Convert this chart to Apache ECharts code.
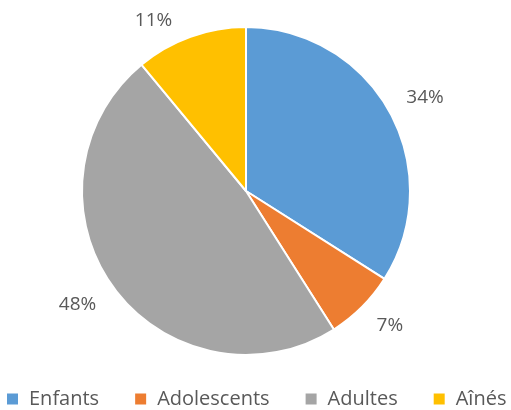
<!DOCTYPE html>
<html>
<head>
<meta charset="utf-8">
<script src="https://cdn.jsdelivr.net/npm/echarts@6/dist/echarts.min.js"></script>
<style>html,body{margin:0;padding:0;background:#fff;}#c{width:511px;height:410px;}</style>
</head>
<body>
<div id="c"></div>
<script>
const categories = ['Enfants', 'Adolescents', 'Adultes', 'Aînés'];
const values = [34, 7, 48, 11];

// styling (not data)
const colors = ['#5B9BD5', '#ED7D31', '#A5A5A5', '#FFC000'];
const labelNudges = [[2, 4], [1, -8], [-5, -5], [-24, 20]];

const chart = echarts.init(document.getElementById('c'));
const mainData = categories.map((n, i) => ({ name: n, value: values[i], itemStyle: { color: colors[i] } }));
const labelData = categories.map((n, i) => ({ name: n, value: values[i], label: { offset: labelNudges[i] } }));
chart.setOption({
  animation: false,
  legend: {
    top: 389,
    left: 7,
    padding: 0,
    icon: 'rect',
    itemWidth: 11,
    itemHeight: 11,
    itemGap: 36,
    itemStyle: { borderWidth: 0 },
    textStyle: { fontFamily: 'Open Sans', fontSize: 20, lineHeight: 20, color: '#595959', padding: [0, 0, 0, 6] },
    data: categories
  },
  series: [
    {
      type: 'pie',
      center: [246, 191],
      radius: 164,
      startAngle: 90,
      clockwise: true,
      label: { show: false },
      labelLine: { show: false },
      itemStyle: { borderColor: '#fff', borderWidth: 2 },
      data: mainData
    },
    {
      type: 'pie',
      center: [246, 191],
      radius: [166, 232],
      startAngle: 90,
      clockwise: true,
      silent: true,
      legendHoverLink: false,
      itemStyle: { color: 'rgba(0,0,0,0)' },
      label: {
        show: true,
        position: 'inside',
        formatter: '{c}%',
        fontFamily: 'Open Sans',
        fontSize: 19,
        color: '#595959'
      },
      labelLine: { show: false },
      data: labelData
    }
  ]
});
</script>
</body>
</html>
